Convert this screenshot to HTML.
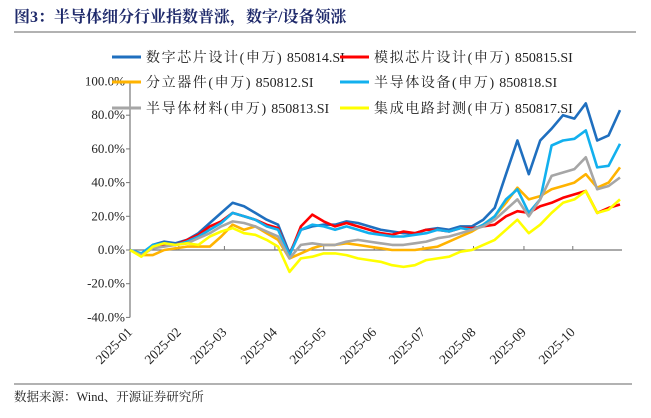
<!DOCTYPE html>
<html><head><meta charset="utf-8"><style>
body{margin:0;background:#fff;width:651px;height:413px;overflow:hidden;font-family:"Liberation Serif","Noto Serif CJK SC",serif}
</style></head><body>
<svg id="c" width="651" height="413" xmlns="http://www.w3.org/2000/svg">
<text x="14" y="22" font-size="16" font-weight="bold" fill="#1f2a6b" font-family="'Liberation Serif','Noto Serif CJK SC',serif">图3：半导体细分行业指数普涨，数字/设备领涨</text>
<line x1="14" y1="32" x2="636" y2="32" stroke="#999" stroke-width="1.5"/>
<line x1="14" y1="384" x2="632" y2="384" stroke="#999" stroke-width="1.5"/>
<text x="14" y="401" font-size="12.5" fill="#222">数据来源：Wind、开源证券研究所</text>
<g id="grid"></g><g id="series"></g><g id="legend"></g>
</svg>
<script>
const yTicks=[100,80,60,40,20,0,-20,-40];
const months=["2025-01","2025-02","2025-03","2025-04","2025-05","2025-06","2025-07","2025-08","2025-09","2025-10"];
const monthDays=[0,30,58,89,119,150,180,211,242,272];
const namesCn=["数字芯片设计(申万)","模拟芯片设计(申万)","分立器件(申万)","半导体设备(申万)","半导体材料(申万)","集成电路封测(申万)"];
const codes=["850814.SI","850815.SI","850812.SI","850818.SI","850813.SI","850817.SI"];
const colors=["#1f6fbf","#ff0000","#ffb300","#12b0ee","#a6a6a6","#ffff00"];
const digital=[0,-3,3,5,4,6,10,16,22,28,26,22,18,15,-2,12,14,15,15,17,16,14,12,11,10,10,12,13,12,14,14,18,25,45,65,45,65,72,80,78,87,65,68,83];
const analog=[0,-3,2,3,3,6,9,14,17,22,20,18,15,13,-3,14,21,17,14,16,14,12,10,9,11,10,12,12,11,13,13,14,15,20,23,22,26,28,31,33,35,22,25,27];
const discrete=[0,-3,-3,0,1,2,2,2,8,15,12,14,10,6,-5,-2,1,3,3,4,3,2,1,0,0,0,1,2,5,8,11,15,20,28,37,30,32,36,38,40,45,37,40,49];
const equipment=[0,-2,3,4,3,5,8,12,16,22,20,18,14,12,-3,12,15,14,12,14,12,10,9,8,8,9,10,12,11,13,12,15,20,30,36,22,30,62,65,66,71,49,50,63];
const materials=[0,-3,1,2,3,4,7,10,14,17,16,14,11,8,-5,3,4,3,3,5,6,5,4,3,3,4,5,7,8,10,12,14,18,24,30,20,30,44,46,48,55,36,38,43];
const packaging=[0,-4,2,4,3,4,3,8,11,13,10,9,6,2,-13,-5,-4,-2,-2,-3,-5,-6,-7,-9,-10,-9,-6,-5,-4,-1,0,3,6,12,18,10,15,22,28,30,35,22,24,30];
const seriesData=[digital,analog,discrete,equipment,materials,packaging];
const NS="http://www.w3.org/2000/svg";
const X0=130,X1=620,Y0=250,PPU=1.685;
const xDay=d=>X0+d*(X1-X0)/301;
const y=v=>Y0-v*PPU;
function mk(tag,at,parent){const e=document.createElementNS(NS,tag);for(const k in at)e.setAttribute(k,at[k]);parent.appendChild(e);return e;}
const g=document.getElementById('grid');
const ya=mk('line',{x1:X0,y1:y(100),x2:X0,y2:y(-40),stroke:'#777','stroke-width':1.2},g);


yTicks.forEach(v=>{
  const t=mk('line',{x1:X0-4,y1:y(v),x2:X0,y2:y(v),stroke:'#777'},g);
  
  
  const l=mk('text',{x:X0-5,y:y(v)+4,'text-anchor':'end','font-size':13,fill:'#222'},g);
  l.textContent=v.toFixed(1)+'%';
  
  
});
const xa=mk('line',{x1:X0,y1:Y0,x2:X1+2,y2:Y0,stroke:'#777','stroke-width':1.2},g);


months.forEach((m,i)=>{
  const x=xDay(monthDays[i]);
  const t=mk('line',{x1:x,y1:Y0-4,x2:x,y2:Y0,stroke:'#777'},g);
  
  
  const l=mk('text',{x:x+3,y:333,'text-anchor':'end','font-size':13.5,fill:'#222',transform:`rotate(-45 ${x+3} 333)`},g);
  l.textContent=m;
  
  
});
const sg=document.getElementById('series');
seriesData.forEach((arr,s)=>{
  const pts=arr.map((v,i)=>xDay(i*7).toFixed(1)+','+y(v).toFixed(1)).join(' ');
  const p=mk('polyline',{points:pts,fill:'none',stroke:colors[s],'stroke-width':2.6,'stroke-linejoin':'round'},sg);
  
  
});
const lg=document.getElementById('legend');
const lpos=[[112,57],[340,57],[112,82],[340,82],[112,108],[340,108]];
namesCn.forEach((n,i)=>{
  const [lx,ly]=lpos[i];
  const ln=mk('line',{x1:lx,y1:ly,x2:lx+29,y2:ly,stroke:colors[i],'stroke-width':3},lg);
  
  
  const t=mk('text',{x:lx+34,y:ly+5,'font-size':14,fill:'#222'},lg);
  
  
  const a=mk('tspan',{'letter-spacing':1.6},t);
  a.textContent=n;
  const b=mk('tspan',{},t);
  b.textContent=' '+codes[i];
});
</script>
</body></html>
